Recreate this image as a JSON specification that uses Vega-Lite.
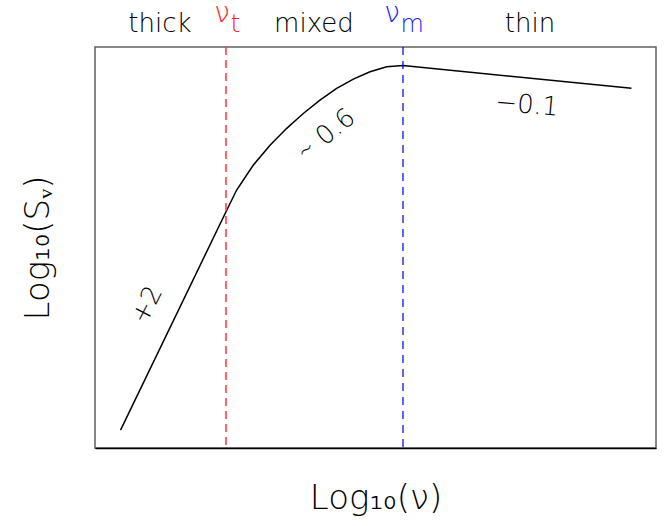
{
  "$schema": "https://vega.github.io/schema/vega-lite/v6.json",
  "width": 561,
  "height": 401,
  "autosize": {"type": "none"},
  "padding": {"left": 95, "top": 47, "right": 15, "bottom": 78},
  "config": {
    "view": {"stroke": "#606060", "strokeWidth": 1.5},
    "font": "DejaVu Sans",
    "axis": {"titleFont": "DejaVu Sans", "titleFontWeight": 200, "titleFontSize": 34, "titleColor": "black"}
  },
  "datasets": {
    "curve": [
      {"logNu": 0.182, "logS": 0.128},
      {"logNu": 0.934, "logS": 1.685},
      {"logNu": 1.010, "logS": 1.840},
      {"logNu": 1.129, "logS": 2.018},
      {"logNu": 1.248, "logS": 2.160},
      {"logNu": 1.367, "logS": 2.280},
      {"logNu": 1.485, "logS": 2.386},
      {"logNu": 1.604, "logS": 2.481},
      {"logNu": 1.723, "logS": 2.565},
      {"logNu": 1.842, "logS": 2.631},
      {"logNu": 1.961, "logS": 2.683},
      {"logNu": 2.080, "logS": 2.719},
      {"logNu": 2.196, "logS": 2.728},
      {"logNu": 3.825, "logS": 2.565}
    ],
    "regimes": [
      {"logNu": 0.463, "logS": 2.966, "label": "thick"},
      {"logNu": 1.561, "logS": 2.966, "label": "mixed"},
      {"logNu": 3.102, "logS": 2.966, "label": "thin"}
    ]
  },
  "layer": [
    {
      "data": {"name": "curve"},
      "mark": {"type": "line", "color": "black", "strokeWidth": 1.5, "interpolate": "linear"},
      "encoding": {
        "x": {"field": "logNu", "type": "quantitative", "scale": {"domain": [0, 4], "nice": false, "zero": false},
              "axis": {"title": "Log₁₀(ν)", "ticks": false, "labels": false, "grid": false, "domainColor": "black", "domainWidth": 1.5, "titlePadding": 33}},
        "y": {"field": "logS", "type": "quantitative", "scale": {"domain": [0, 2.86], "nice": false, "zero": false},
              "axis": {"title": "Log₁₀(Sᵥ)", "ticks": false, "labels": false, "grid": false, "domain": false, "titlePadding": 40}}
      }
    },
    {
      "data": {"values": [{"logNu": 0.934}]},
      "mark": {"type": "rule", "color": "#ff3535", "strokeWidth": 1.5, "strokeDash": [8, 5]},
      "encoding": {"x": {"field": "logNu", "type": "quantitative"}}
    },
    {
      "data": {"values": [{"logNu": 2.196}]},
      "mark": {"type": "rule", "color": "#1010ee", "strokeWidth": 1.3, "strokeDash": [8, 6]},
      "encoding": {"x": {"field": "logNu", "type": "quantitative"}}
    },
    {
      "data": {"name": "regimes"},
      "mark": {"type": "text", "fontSize": 26, "fontWeight": 200, "color": "black", "align": "center", "baseline": "alphabetic"},
      "encoding": {
        "x": {"field": "logNu", "type": "quantitative"},
        "y": {"field": "logS", "type": "quantitative"},
        "text": {"field": "label"}
      }
    },
    {
      "data": {"values": [{"logNu": 0.906, "logS": 3.037, "label": "ν"}]},
      "mark": {"type": "text", "fontSize": 28, "fontWeight": 200, "color": "#ff2020", "align": "center", "baseline": "alphabetic"},
      "encoding": {"x": {"field": "logNu", "type": "quantitative"}, "y": {"field": "logS", "type": "quantitative"}, "text": {"field": "label"}}
    },
    {
      "data": {"values": [{"logNu": 1.001, "logS": 2.966, "label": "t"}]},
      "mark": {"type": "text", "fontSize": 25, "fontWeight": 200, "color": "#ff2020", "align": "center", "baseline": "alphabetic"},
      "encoding": {"x": {"field": "logNu", "type": "quantitative"}, "y": {"field": "logS", "type": "quantitative"}, "text": {"field": "label"}}
    },
    {
      "data": {"values": [{"logNu": 2.118, "logS": 3.037, "label": "ν"}]},
      "mark": {"type": "text", "fontSize": 28, "fontWeight": 200, "color": "#1a1aff", "align": "center", "baseline": "alphabetic"},
      "encoding": {"x": {"field": "logNu", "type": "quantitative"}, "y": {"field": "logS", "type": "quantitative"}, "text": {"field": "label"}}
    },
    {
      "data": {"values": [{"logNu": 2.262, "logS": 2.966, "label": "m"}]},
      "mark": {"type": "text", "fontSize": 24, "fontWeight": 200, "color": "#1a1aff", "align": "center", "baseline": "alphabetic"},
      "encoding": {"x": {"field": "logNu", "type": "quantitative"}, "y": {"field": "logS", "type": "quantitative"}, "text": {"field": "label"}}
    },
    {
      "data": {"values": [{"logNu": 0.371, "logS": 1.020, "label": "+2"}]},
      "mark": {"type": "text", "fontSize": 26, "fontWeight": 200, "color": "black", "align": "center", "baseline": "middle", "angle": 297},
      "encoding": {"x": {"field": "logNu", "type": "quantitative"}, "y": {"field": "logS", "type": "quantitative"}, "text": {"field": "label"}}
    },
    {
      "data": {"values": [{"logNu": 1.647, "logS": 2.232, "label": "∼ 0.6"}]},
      "mark": {"type": "text", "fontSize": 26, "fontWeight": 200, "color": "black", "align": "center", "baseline": "middle", "angle": 321},
      "encoding": {"x": {"field": "logNu", "type": "quantitative"}, "y": {"field": "logS", "type": "quantitative"}, "text": {"field": "label"}}
    },
    {
      "data": {"values": [{"logNu": 3.080, "logS": 2.446, "label": "−0.1"}]},
      "mark": {"type": "text", "fontSize": 26, "fontWeight": 200, "color": "black", "align": "center", "baseline": "middle", "angle": 5},
      "encoding": {"x": {"field": "logNu", "type": "quantitative"}, "y": {"field": "logS", "type": "quantitative"}, "text": {"field": "label"}}
    }
  ]
}
